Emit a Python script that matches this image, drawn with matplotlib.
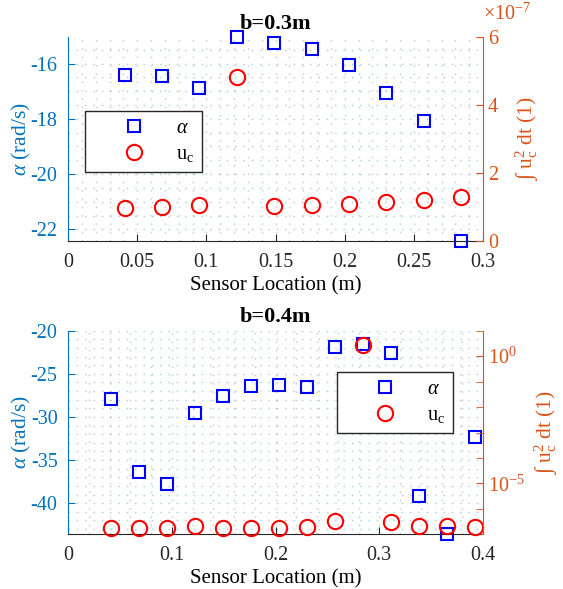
import matplotlib
matplotlib.use("Agg")
import matplotlib.pyplot as plt
import numpy as np
from matplotlib.ticker import MultipleLocator, FuncFormatter, FixedLocator, NullFormatter

plt.rcParams["font.family"] = ["Liberation Serif", "DejaVu Serif"]
plt.rcParams["mathtext.fontset"] = "custom"
plt.rcParams["mathtext.rm"] = "Liberation Serif"
plt.rcParams["mathtext.it"] = "Liberation Serif:italic"
plt.rcParams["axes.unicode_minus"] = False

BLUE_AX = "#0072BD"
ORANGE_AX = "#D95319"

# b = 0.3 m
x_03 = [0.041, 0.068, 0.095, 0.122, 0.149, 0.176, 0.203, 0.230, 0.257, 0.284]
alpha_03 = [-16.40, -16.44, -16.88, -15.04, -15.25, -15.47, -16.06, -17.07, -18.07, -22.42]
uc_03 = [0.98e-7, 1.01e-7, 1.05e-7, 4.83e-7, 1.03e-7, 1.06e-7, 1.10e-7, 1.14e-7, 1.22e-7, 1.28e-7]
uc_03_exp = -7

# b = 0.4 m
x_04 = [0.041, 0.068, 0.095, 0.122, 0.149, 0.176, 0.203, 0.230, 0.257, 0.284,
        0.311, 0.338, 0.365, 0.392]
alpha_04 = [-27.88, -36.42, -37.73, -29.58, -27.61, -26.38, -26.30, -26.53, -21.85, -21.57,
            -22.60, -39.15, -43.60, -32.35]
uc_04 = [1.78e-7, 1.82e-7, 1.78e-7, 2.14e-7, 1.78e-7, 1.78e-7, 1.78e-7, 1.91e-7, 3.24e-7, 2.69,
         2.95e-7, 2.19e-7, 2.19e-7, 1.91e-7]

FS = 14.5
LFS = 15.5
fig = plt.figure(figsize=(5.63, 5.89), dpi=100)
ax_top = fig.add_axes([0.1208, 0.5908, 0.7372, 0.3464])
ax_bot = fig.add_axes([0.1208, 0.0929, 0.7372, 0.3456])


def style(ax, axr, rx):
    ax.spines["top"].set_visible(False)
    ax.spines["right"].set_visible(False)
    ax.spines["left"].set_color(BLUE_AX)
    ax.spines["bottom"].set_color("#262626")
    axr.spines["top"].set_visible(False)
    axr.spines["left"].set_visible(False)
    axr.spines["bottom"].set_visible(False)
    axr.spines["right"].set_color(ORANGE_AX)
    ax.tick_params(axis="y", colors=BLUE_AX, direction="in", labelsize=FS, length=5,
                   which="major", pad=7.5)
    ax.tick_params(axis="y", which="minor", length=0)
    ax.tick_params(axis="x", colors="#262626", direction="in", labelsize=FS, length=5,
                   which="major", pad=8.5)
    ax.tick_params(axis="x", which="minor", length=0)
    axr.tick_params(axis="y", colors=ORANGE_AX, direction="in", labelsize=FS, length=5)
    ax.xaxis.set_major_formatter(FuncFormatter(lambda v, p: f"{v:g}"))
    ax.yaxis.set_major_formatter(FuncFormatter(lambda v, p: f"{v:g}"))
    ax.grid(which="both", axis="y", color=BLUE_AX, alpha=0.35, linestyle=(0, (1, 5)), linewidth=1.0)
    ax.grid(which="both", axis="x", color="#606060", alpha=0.35, linestyle=(0, (1, 5)), linewidth=1.0)
    ax.set_axisbelow(True)
    ax.set_xlabel("Sensor Location (m)", fontsize=15, labelpad=3)
    ax.set_ylabel(r"$\alpha$ (rad/s)", fontsize=LFS, color=BLUE_AX)
    ax.yaxis.set_label_coords(-0.085, 0.5)
    axr.set_ylabel(r"$\int$ u$_\mathrm{c}^2$ dt (1)", fontsize=LFS, color=ORANGE_AX)
    axr.yaxis.set_label_coords(rx, 0.5)


def draw(ax, axr, x, alpha, uc):
    axr.plot(x, uc, "o", ms=11, mfc="none", mec="#FF0000", mew=1.5, clip_on=False,
             label=r"u$_\mathrm{c}$")
    ax.plot(x, alpha, "s", ms=9, mfc="none", mec="#0000FF", mew=1.5, clip_on=False,
            label=r"$\alpha$")


# top panel
axr_top = ax_top.twinx()
draw(ax_top, axr_top, x_03, alpha_03, uc_03)
ax_top.set_xlim(0, 0.3)
ax_top.set_ylim(min(alpha_03), max(alpha_03))
ax_top.xaxis.set_major_locator(MultipleLocator(0.05))
ax_top.xaxis.set_minor_locator(MultipleLocator(0.01))
ax_top.yaxis.set_major_locator(MultipleLocator(2))
ax_top.yaxis.set_minor_locator(MultipleLocator(0.5))
axr_top.set_ylim(0, 6e-7)
axr_top.yaxis.set_major_locator(MultipleLocator(2e-7))
scale = 10.0 ** uc_03_exp
axr_top.yaxis.set_major_formatter(FuncFormatter(lambda v, p: f"{v / scale:g}"))
axr_top.text(1.0, 1.06, r"$\times$10$^{%d}$" % uc_03_exp, transform=axr_top.transAxes,
             ha="left", va="bottom", fontsize=FS, color=ORANGE_AX)
style(ax_top, axr_top, 1.075)
ax_top.set_title("b=0.3m", fontsize=16, fontweight="bold", pad=6)

# bottom panel
axr_bot = ax_bot.twinx()
draw(ax_bot, axr_bot, x_04, alpha_04, uc_04)
ax_bot.set_xlim(0, 0.4)
ax_bot.set_ylim(min(alpha_04), -20)
ax_bot.xaxis.set_major_locator(MultipleLocator(0.1))
ax_bot.xaxis.set_minor_locator(MultipleLocator(0.02))
ax_bot.yaxis.set_major_locator(MultipleLocator(5))
ax_bot.yaxis.set_minor_locator(MultipleLocator(1))
axr_bot.set_yscale("log")
axr_bot.set_ylim(1e-7, 1e1)
axr_bot.yaxis.set_major_locator(FixedLocator([1e-5, 1e0]))
axr_bot.yaxis.set_major_formatter(FuncFormatter(lambda v, p: r"10$^{%d}$" % round(np.log10(v))))
axr_bot.yaxis.set_minor_locator(FixedLocator([10.0 ** k for k in range(-7, 2)]))
axr_bot.yaxis.set_minor_formatter(NullFormatter())
axr_bot.tick_params(axis="y", which="minor", colors=ORANGE_AX, direction="in", length=5)
style(ax_bot, axr_bot, 1.12)
ax_bot.set_title("b=0.4m", fontsize=16, fontweight="bold", pad=6)

# legends
for ax, axr, cx, cy in [(ax_top, axr_top, 0.182, 0.488), (ax_bot, axr_bot, 0.788, 0.647)]:
    h1, l1 = ax.get_legend_handles_labels()
    h2, l2 = axr.get_legend_handles_labels()
    leg = axr.legend(h1 + h2, l1 + l2, loc="center", bbox_to_anchor=(cx, cy),
                     bbox_transform=ax.transAxes, fontsize=FS, handlelength=4,
                     handletextpad=0.1, labelspacing=0.35, borderpad=0.4,
                     fancybox=False, framealpha=1, edgecolor="#262626")
    leg.get_frame().set_linewidth(1.0)

fig.savefig("out.png", dpi=100)
